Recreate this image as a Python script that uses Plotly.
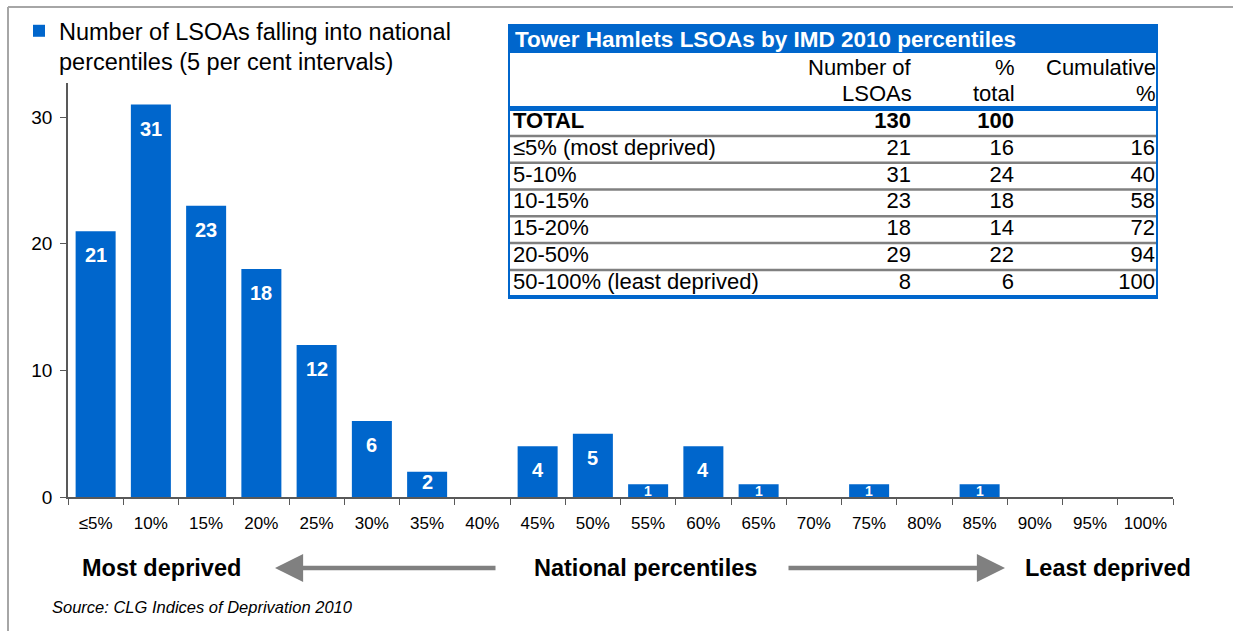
import plotly.graph_objects as go

# ---------------- data ----------------
categories = ["≤5%", "10%", "15%", "20%", "25%", "30%", "35%", "40%", "45%", "50%",
              "55%", "60%", "65%", "70%", "75%", "80%", "85%", "90%", "95%", "100%"]
lsoa_counts = [21, 31, 23, 18, 12, 6, 2, 0, 4, 5, 1, 4, 1, 0, 1, 0, 1, 0, 0, 0]
series_name = "Number of LSOAs falling into national<br>percentiles (5 per cent intervals)"
y_ticks = [0, 10, 20, 30]

table_title = "Tower Hamlets LSOAs by IMD 2010 percentiles"
table_headers = ["", "Number of<br>LSOAs", "%<br>total", "Cumulative<br>%"]
table_bands = ["TOTAL", "≤5% (most deprived)", "5-10%", "10-15%", "15-20%", "20-50%",
               "50-100% (least deprived)"]
table_number = [130, 21, 31, 23, 18, 29, 8]
table_pct = [100, 16, 24, 18, 14, 22, 6]
table_cum = [None, 16, 40, 58, 72, 94, 100]

source_text = "Source: CLG Indices of Deprivation 2010"
left_label, mid_label, right_label = "Most deprived", "National percentiles", "Least deprived"

# ---------------- style / layout helpers ----------------
BLUE = "#0066CC"
GREY = "#808080"
FONT = "Liberation Sans, Arial, sans-serif"

W, H = 1233, 631
ML, MR, MT, MB = 68, 60, 0, 134
PW = W - ML - MR
PH = H - MT - MB


def px_x(x):
    return (x - ML) / PW


def px_y(y):
    return (H - MB - y) / PH


# table geometry (pixels) -> table axis units
T_LEFT, T_RIGHT = 508, 1158
ROW0_Y, ROW_STEP = 122.5, 26.8


def row_of(y):
    return (y - ROW0_Y) / ROW_STEP


col_anchor = [5, 403, 506, 647]          # x2 units (pixels from table left)
col_pos = ["middle right", "middle left", "middle left", "middle left"]

fig = go.Figure()

# ---------------- bars ----------------
fig.add_trace(go.Bar(
    x=categories, y=lsoa_counts, name=series_name,
    marker=dict(color=BLUE, line=dict(width=0)),
    showlegend=True, hoverinfo="x+y",
))

# ---------------- table as text on its own axes ----------------
def fmt(v, bold=False):
    if v is None:
        return ""
    return f"<b>{v}</b>" if bold else str(v)

columns = [table_bands, table_number, table_pct, table_cum]
tx, ty, tt, tp = [], [], [], []
for j, col in enumerate(columns):
    for i, v in enumerate(col):
        tx.append(col_anchor[j])
        ty.append(i)
        tt.append(fmt(v, i == 0))
        tp.append(col_pos[j])

fig.add_trace(go.Scatter(
    x=tx, y=ty, text=tt, mode="text", textposition=tp, xaxis="x2", yaxis="y2",
    textfont=dict(family=FONT, size=22, color="black"), showlegend=False,
    hoverinfo="skip", cliponaxis=False,
))

shapes = []
# outer frame
shapes.append(dict(type="line", xref="paper", yref="paper", x0=px_x(8), x1=px_x(W + 5),
                   y0=px_y(7), y1=px_y(7), line=dict(color="#A6A6A6", width=2)))
shapes.append(dict(type="line", xref="paper", yref="paper", x0=px_x(8), x1=px_x(8),
                   y0=px_y(7), y1=px_y(H + 5), line=dict(color="#A6A6A6", width=2)))
# table title bar
shapes.append(dict(type="rect", xref="x2", yref="y2", x0=0, x1=T_RIGHT - T_LEFT,
                   y0=row_of(26), y1=row_of(53), fillcolor=BLUE, line=dict(width=0)))
# row separators
for k in range(len(table_bands) - 1):
    shapes.append(dict(type="line", xref="x2", yref="y2", x0=0, x1=T_RIGHT - T_LEFT,
                       y0=k + 0.5, y1=k + 0.5, line=dict(color=GREY, width=2.5)))
# thick header line
shapes.append(dict(type="line", xref="x2", yref="y2", x0=0, x1=T_RIGHT - T_LEFT,
                   y0=row_of(108.5), y1=row_of(108.5), line=dict(color=BLUE, width=5)))
# border
shapes.append(dict(type="rect", xref="x2", yref="y2", x0=0, x1=T_RIGHT - T_LEFT,
                   y0=row_of(26), y1=row_of(297), line=dict(color=BLUE, width=4)))

annotations = []
# bar value labels (inside end, white bold)
for cat, v in zip(categories, lsoa_counts):
    if not v:
        continue
    big = v >= 4
    annotations.append(dict(
        x=cat, y=v, xref="x", yref="y", text=f"<b>{v}</b>", showarrow=False,
        xanchor="center", yanchor="middle",
        yshift=-24 if big else (-10 if v >= 2 else -7),
        font=dict(family=FONT, size=20 if v >= 2 else 14, color="white")))

annotations.append(dict(xref="x2", yref="y2", x=5, y=row_of(40), xanchor="left",
                        yanchor="middle", showarrow=False, text=f"<b>{table_title}</b>",
                        font=dict(family=FONT, size=22.5, color="white")))
for j, htxt in enumerate(table_headers):
    if not htxt:
        continue
    for line_txt, ly in zip(htxt.split("<br>"), [67, 93]):
        annotations.append(dict(xref="x2", yref="y2", x=col_anchor[j] + 3, y=row_of(ly),
                                xanchor="right", yanchor="middle", showarrow=False,
                                text=line_txt, font=dict(family=FONT, size=22, color="black")))

y_bot = px_y(568)
for txt, xc in [(left_label, 161), (mid_label, 645), (right_label, 1108)]:
    annotations.append(dict(xref="paper", yref="paper", x=px_x(xc), y=y_bot, xanchor="center",
                            yanchor="middle", showarrow=False, text=f"<b>{txt}</b>",
                            font=dict(family=FONT, size=23.5, color="black")))
# arrows
annotations.append(dict(xref="paper", yref="paper", x=px_x(275), y=y_bot, ax=222, ay=0, text="",
                        showarrow=True, arrowhead=2, arrowsize=1.25, arrowwidth=4.5, arrowcolor=GREY))
annotations.append(dict(xref="paper", yref="paper", x=px_x(1005), y=y_bot, ax=-218, ay=0, text="",
                        showarrow=True, arrowhead=2, arrowsize=1.25, arrowwidth=4.5, arrowcolor=GREY))
annotations.append(dict(xref="paper", yref="paper", x=px_x(50), y=px_y(607), xanchor="left",
                        yanchor="middle", showarrow=False, text=f"<i>{source_text}</i>",
                        font=dict(family=FONT, size=16.5, color="black")))

fig.update_layout(
    width=W, height=H,
    margin=dict(l=ML, r=MR, t=MT, b=MB, pad=0),
    paper_bgcolor="white", plot_bgcolor="rgba(0,0,0,0)",
    bargap=0.276,
    font=dict(family=FONT, color="black"),
    shapes=shapes, annotations=annotations,
    legend=dict(x=px_x(19), y=px_y(9), xanchor="left", yanchor="top",
                font=dict(family=FONT, size=23.5, color="black"),
                bgcolor="rgba(0,0,0,0)", valign="top", itemwidth=30,
                tracegroupgap=0),
    xaxis=dict(showgrid=False, showline=True, linecolor="#595959", linewidth=1.5,
               ticks="outside", tickson="boundaries", ticklen=6, tickcolor="#595959",
               tickfont=dict(family=FONT, size=17, color="black"), ticklabelstandoff=10,
               fixedrange=True),
    yaxis=dict(domain=[0, px_y(83)], range=[0, 32.7], showgrid=False, showline=True,
               linecolor="#595959", linewidth=1.5, ticks="outside", ticklen=6,
               tickcolor="#595959", tickvals=y_ticks, zeroline=False,
               tickfont=dict(family=FONT, size=19, color="black"), ticklabelstandoff=4,
               fixedrange=True),
    xaxis2=dict(domain=[px_x(T_LEFT), px_x(T_RIGHT)], range=[0, T_RIGHT - T_LEFT],
                anchor="y2", visible=False, fixedrange=True),
    yaxis2=dict(domain=[px_y(300), px_y(24)], range=[row_of(300), row_of(24)],
                anchor="x2", visible=False, fixedrange=True),
)

fig.write_html("out.html", config={"displayModeBar": False},
               post_script="document.body.style.margin='0px';")
